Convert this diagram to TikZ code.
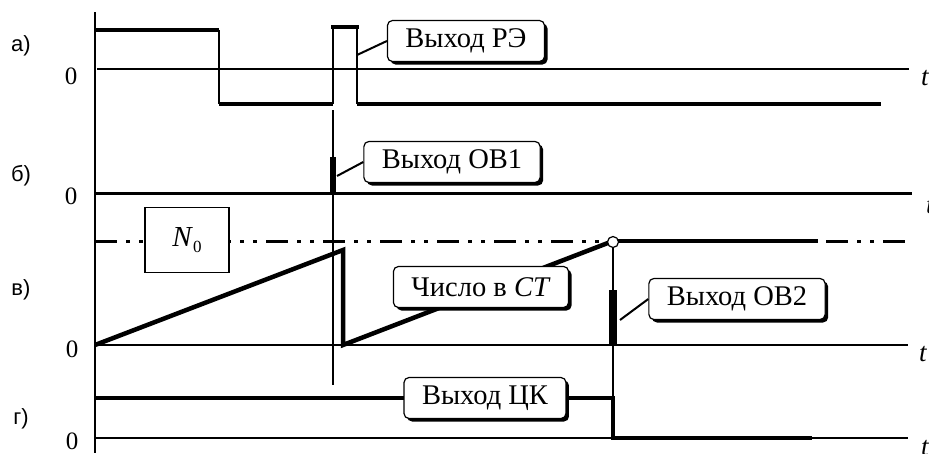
\documentclass[tikz,border=0pt]{standalone}
\usepackage{fontspec}
\setmainfont{Liberation Serif}
\newfontfamily\lblfont{Liberation Sans}
\usetikzlibrary{shadows}
\tikzset{
  axisline/.style={line width=2pt},
  sigline/.style={line width=4.5pt},
  edgeline/.style={line width=2.5pt},
  leader/.style={line width=2pt},
  levelline/.style={line width=3pt, dash pattern=on 22pt off 9pt on 4pt off 9pt on 4pt off 9pt},
  callout/.style={draw, line width=1.2pt, rounded corners=5pt, fill=white, font=\fontsize{28.5}{31}\selectfont, inner xsep=18pt, minimum height=41pt, drop shadow={opacity=1, fill=black, shadow xshift=3pt, shadow yshift=-3pt}},
  panellbl/.style={font=\lblfont\fontsize{22}{26}\selectfont},
  zerolbl/.style={font=\fontsize{25}{28}\selectfont},
  tlbl/.style={font=\itshape\fontsize{27}{30}\selectfont, anchor=west, inner sep=0pt},
}
\begin{document}
\begin{tikzpicture}[x=1pt, y=-1pt]%
\useasboundingbox (0,0) rectangle (929,453);%
% axis
\draw[axisline] (95,12) -- (95,453);%
% a) output of the relay element
\node[panellbl] (la) at (21,46) {а)};%
\node[zerolbl] (za) at (71,76) {0};%
\draw[axisline] (97,69) -- (909,69);%
\node[tlbl] (ta) at (921,78) {t};%
\draw[sigline] (95,30) -- (219,30);%
\draw[edgeline] (219,30) -- (219,104);%
\draw[sigline] (219,104) -- (333,104);%
\draw[edgeline] (333,104) -- (333,27) -- (357,27) -- (357,104);%
\draw[sigline] (331,27) -- (359,27);%
\draw[sigline] (357,104) -- (881,104);%
\coordinate (rep) at (357,55);%
% b) output of OV1
\node[panellbl] (lb) at (21,176) {б)};%
\node[zerolbl] (zb) at (71,196) {0};%
\draw[line width=3pt] (95,193) -- (912,193);%
\node[tlbl] (tb) at (926,206) {t};%
\draw[axisline] (333,110) -- (333,385);%
\draw[line width=6pt] (333,157) -- (333,193);%
\coordinate (ob1p) at (337,176);%
% v) counter contents
\node[panellbl] (lv) at (21,290) {в)};%
\node[zerolbl] (zv) at (72,349) {0};%
\draw[levelline] (95,241) -- (613,241);%
\draw[levelline] (826,241) -- (907,241);%
\draw[sigline] (613,241) -- (818,241);%
\node[draw, line width=1.5pt, fill=white, minimum width=84pt, minimum height=65pt, font=\fontsize{29}{31}\selectfont] (n0) at (187,240) {\textit{N}\raisebox{-6pt}{\fontsize{17}{20}\selectfont 0}};%
\draw[axisline] (95,345) -- (908,345);%
\node[tlbl] (tv) at (919,354) {t};%
\draw[sigline, line join=miter] (95,345) -- (343,250) -- (343,345) -- (613,241);%
\draw[line width=8pt] (613,290) -- (613,345);%
\node[circle, draw, fill=white, line width=1.2pt, inner sep=0pt, minimum size=11pt] (cmp) at (613,242) {};%
\draw[axisline] (cmp.south) -- (613,398);%
\coordinate (ob2p) at (620,320);%
% g) output of the control flip-flop
\node[panellbl] (lg) at (21,419) {г)};%
\node[zerolbl] (zg) at (72,441) {0};%
\draw[axisline] (95,438) -- (908,438);%
\node[tlbl] (tg) at (921,448) {t};%
\draw[sigline] (95,398) -- (613,398) -- (613,438) -- (812,438);%
% callouts
\node[callout] (re) at (466,41) {Выход РЭ};%
\draw[leader] (re.west) -- (rep);%
\node[callout] (ob1) at (452,162) {Выход ОВ1};%
\draw[leader] (ob1.west) -- (ob1p);%
\node[callout] (ct) at (481,287) {Число в \textit{CT}};%
\node[callout] (ob2) at (737,299) {Выход ОВ2};%
\draw[leader] (ob2.west) -- (ob2p);%
\node[callout] (ck) at (485,398) {Выход ЦК};%
\end{tikzpicture}
\end{document}
